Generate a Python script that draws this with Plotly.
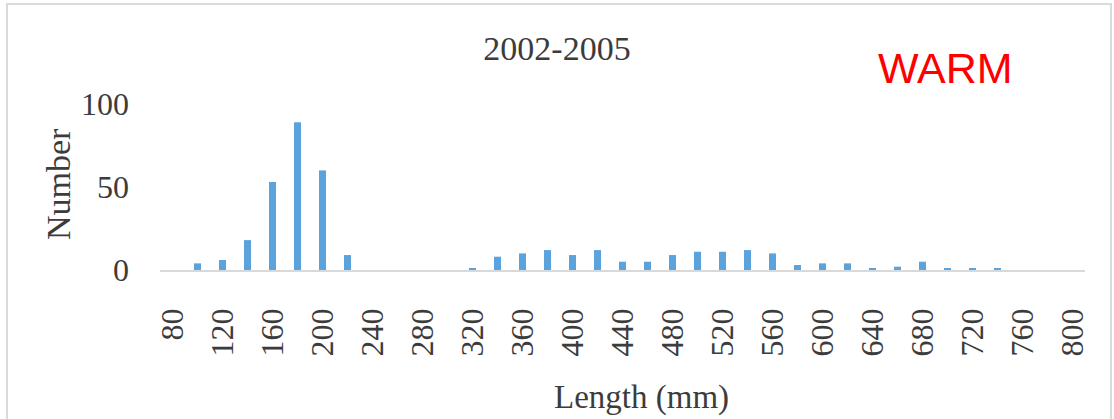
import plotly.graph_objects as go

lengths = list(range(80, 801, 20))
counts = [0, 4, 6, 18, 53, 89, 60, 9, 0, 0, 0, 0, 1, 8, 10, 12, 9, 12, 5, 5,
          9, 11, 11, 12, 10, 3, 4, 4, 1, 2, 5, 1, 1, 1, 0, 0, 0]
tick_labels = list(range(80, 801, 40))

W, H = 1114, 419
L, R, T, B = 160, 1085, 104, 270

def px(p):
    return (p - L) / (R - L)

def py(p):
    return (B - p) / (B - T)

serif = "Liberation Serif, Times New Roman, serif"
txt = "#3c3c3c"

fig = go.Figure(go.Bar(x=lengths, y=counts, marker=dict(color="#5ba3dd", line=dict(width=0))))

fig.update_layout(
    width=W, height=H,
    margin=dict(l=L, r=W - R, t=T, b=H - B),
    paper_bgcolor="white", plot_bgcolor="white",
    bargap=0.72, showlegend=False,
    title=dict(text="2002-2005", x=557 / W, xref="container", xanchor="center",
               y=1 - 48 / H, yref="container", yanchor="middle",
               font=dict(family=serif, size=34, color=txt)),
    xaxis=dict(range=[70, 810], tickvals=tick_labels, ticktext=[str(v) for v in tick_labels],
               tickangle=-90, showgrid=False, zeroline=False, showline=True,
               linecolor="#d9d9d9", linewidth=1.5, ticks="", ticklabelstandoff=24,
               tickfont=dict(family=serif, size=32, color=txt)),
    yaxis=dict(range=[0, 100], tickvals=[0, 50, 100], showgrid=False, zeroline=False,
               showline=False, ticks="", ticklabelstandoff=30,
               tickfont=dict(family=serif, size=32, color=txt)),
    annotations=[
        dict(text="Length (mm)", x=px(641), y=py(397), xref="paper", yref="paper",
             showarrow=False, xanchor="center", yanchor="middle",
             font=dict(family=serif, size=33, color=txt)),
        dict(text="Number", x=px(58), y=py(184), xref="paper", yref="paper",
             showarrow=False, xanchor="center", yanchor="middle", textangle=-90,
             font=dict(family=serif, size=34, color=txt)),
        dict(text="WARM", x=px(945), y=py(68), xref="paper", yref="paper",
             showarrow=False, xanchor="center", yanchor="middle",
             font=dict(family="Liberation Sans, Arial, sans-serif", size=43, color="#ff0000")),
    ],
    shapes=[
        dict(type="rect", xref="paper", yref="paper", x0=px(7), x1=px(1111), y0=py(430), y1=py(4),
             line=dict(color="#d9d9d9", width=2), fillcolor="rgba(0,0,0,0)", layer="below"),
    ],
)

fig.write_html("out.html", config={"displayModeBar": False},
               post_script="document.body.style.margin='0';document.body.style.overflow='hidden';")
